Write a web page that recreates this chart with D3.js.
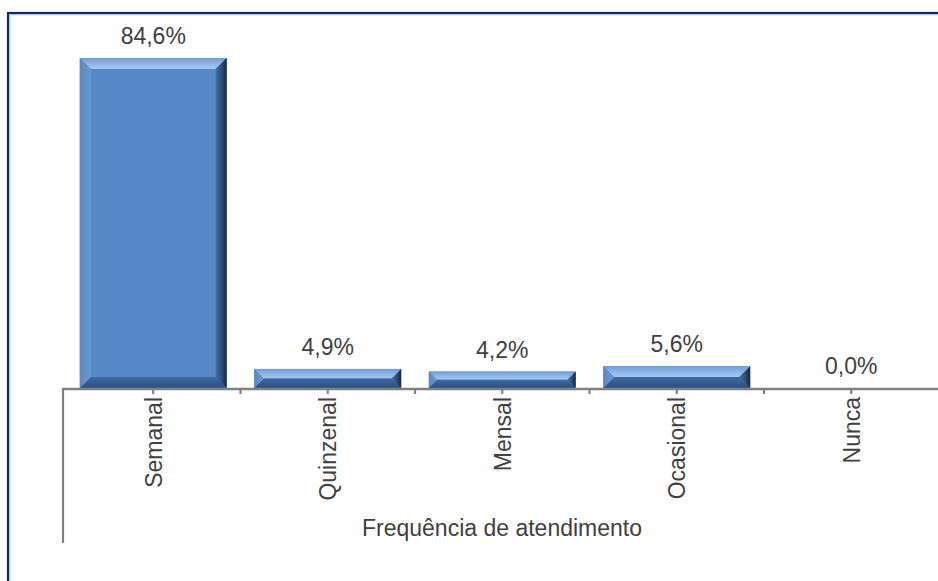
<!DOCTYPE html>
<html>
<head>
<meta charset="utf-8">
<script src="https://cdn.jsdelivr.net/npm/d3@7"></script>
<style>
  html, body { margin: 0; padding: 0; background: #fff; }
  svg { display: block; font-family: 'Liberation Sans', Arial, sans-serif; }
</style>
</head>
<body>
<div id="chart"></div>
<script>
const categories = ['Semanal', 'Quinzenal', 'Mensal', 'Ocasional', 'Nunca'];
const values = [84.6, 4.9, 4.2, 5.6, 0.0];
const axisTitle = 'Frequência de atendimento';

const width = 938,
  height = 581;

const svg = d3.select('#chart').append('svg')
  .attr('width', width)
  .attr('height', height);

const locale = d3.formatLocale({ decimal: ',', thousands: '.', grouping: [3], currency: ['', ''] });
const fmt = (v) => locale.format('.1f')(v) + '%';

const x = d3.scaleBand()
  .domain(categories)
  .range([66, 938.5])
  .paddingInner(0.158)
  .paddingOuter(0.079);

const y = d3.scaleLinear()
  .domain([0, 90])
  .range([388, 37]);

// gradients for the bevel
const defs = svg.append('defs');
function grad(id, x1, y1, x2, y2, stops) {
  const g = defs.append('linearGradient').attr('id', id)
    .attr('x1', x1).attr('y1', y1).attr('x2', x2).attr('y2', y2);
  stops.forEach(([o, c]) => g.append('stop').attr('offset', o).attr('stop-color', c));
}
grad('gTop', 0, 0, 0, 1, [[0, '#6f9bd4'], [0.6, '#93b9ea'], [1, '#a4c6f2']]);
grad('gBottom', 0, 0, 0, 1, [[0, '#3e6aa2'], [1, '#2c4f7e']]);
grad('gLeft', 0, 0, 1, 0, [[0, '#5a88c2'], [1, '#6a98d2']]);
grad('gRight', 0, 0, 1, 0, [[0, '#44719f'], [0.6, '#2c4a70'], [1, '#14243b']]);

// border
svg.append('rect')
  .attr('x', 8).attr('y', 13)
  .attr('width', 960).attr('height', 600)
  .attr('fill', 'none')
  .attr('stroke', '#0b2d6e')
  .attr('stroke-width', 2.2);
svg.append('rect')
  .attr('x', 9.8).attr('y', 14.8)
  .attr('width', 960).attr('height', 600)
  .attr('fill', 'none')
  .attr('stroke', '#9fb0cf')
  .attr('stroke-width', 0.8);

// bars
const bars = svg.append('g').selectAll('g')
  .data(categories.map((c, i) => ({ cat: c, v: values[i] })))
  .join('g');

bars.each(function (d) {
  if (d.v <= 0) return;
  const g = d3.select(this);
  const x0 = x(d.cat), x1 = x0 + x.bandwidth();
  const y0 = y(d.v), y1 = y(0);
  const b = Math.min(11, (y1 - y0) / 2, (x1 - x0) / 2);
  const poly = (pts, fill) => g.append('polygon')
    .attr('points', pts.map((p) => p.join(',')).join(' '))
    .attr('fill', fill);
  g.append('rect')
    .attr('x', x0).attr('y', y0)
    .attr('width', x1 - x0).attr('height', y1 - y0)
    .attr('fill', '#5688c8');
  poly([[x0, y0], [x1, y0], [x1 - b, y0 + b], [x0 + b, y0 + b]], 'url(#gTop)');
  poly([[x0, y1], [x1, y1], [x1 - b, y1 - b], [x0 + b, y1 - b]], 'url(#gBottom)');
  poly([[x0, y0], [x0 + b, y0 + b], [x0 + b, y1 - b], [x0, y1]], 'url(#gLeft)');
  poly([[x1, y0], [x1 - b, y0 + b], [x1 - b, y1 - b], [x1, y1]], 'url(#gRight)');
});

// value labels
bars.append('text')
  .attr('x', (d) => x(d.cat) + x.bandwidth() / 2)
  .attr('y', (d) => y(d.v) - 14)
  .attr('text-anchor', 'middle')
  .attr('font-size', 23)
  .attr('fill', '#404040')
  .text((d) => fmt(d.v));

// axis
const axisY = y(0);
const axisG = svg.append('g');
axisG.append('line')
  .attr('x1', 62).attr('x2', width)
  .attr('y1', axisY + 1).attr('y2', axisY + 1)
  .attr('stroke', '#808080').attr('stroke-width', 2.5);
axisG.append('line')
  .attr('x1', 63).attr('x2', 63)
  .attr('y1', axisY).attr('y2', 543)
  .attr('stroke', '#808080').attr('stroke-width', 2.2);

const step = x.step();
const bounds = categories.slice(1).map((c) => x(c) - step * x.paddingInner() / 2);
const centers = categories.map((c) => x(c) + x.bandwidth() / 2);
axisG.selectAll('.tick')
  .data(bounds.concat(centers))
  .join('line')
  .attr('x1', (d) => d).attr('x2', (d) => d)
  .attr('y1', axisY).attr('y2', axisY + 6)
  .attr('stroke', '#808080').attr('stroke-width', 2.2);

axisG.selectAll('.cat')
  .data(categories)
  .join('text')
  .attr('transform', (d) => `translate(${x(d) + x.bandwidth() / 2},${axisY + 9}) rotate(-90)`)
  .attr('text-anchor', 'end')
  .attr('dy', '0.36em')
  .attr('font-size', 23)
  .attr('fill', '#404040')
  .text((d) => d);

svg.append('text')
  .attr('x', 502)
  .attr('y', 536)
  .attr('text-anchor', 'middle')
  .attr('font-size', 23)
  .attr('fill', '#404040')
  .text(axisTitle);
</script>
</body>
</html>
